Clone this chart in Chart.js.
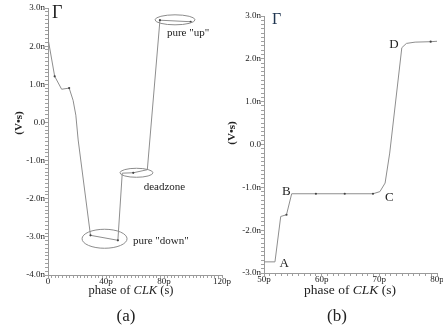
<!DOCTYPE html>
<html>
<head>
<meta charset="utf-8">
<script src="https://cdn.jsdelivr.net/npm/chart.js@4.4.1/dist/chart.umd.min.js"></script>
<style>
    body { margin: 0; background: #fff; width: 443px; height: 328px; overflow: hidden; position: relative; font-family: "Liberation Serif", "DejaVu Serif", serif; color: #222; }
    canvas { position: absolute; top: 0; }
    #chartA { left: 0; }
    #chartB { left: 222px; }
    .txt { position: absolute; white-space: nowrap; line-height: 1; }
    .ytitle { transform: translate(-50%, -50%) rotate(-90deg); font-weight: bold; font-size: 11px; }
    .xtitle { transform: translateX(-50%); font-size: 12.5px; }
    .panel { transform: translateX(-50%); font-size: 17px; }
    .gamma { font-size: 18px; }
</style>
</head>
<body>
<canvas id="chartA" width="235" height="290" style="width:235px;height:290px"></canvas>
<canvas id="chartB" width="221" height="290" style="width:221px;height:290px"></canvas>

<div class="txt gamma" style="left:52px;top:3px">Γ</div>
<div class="txt gamma" style="left:272px;top:11px;font-size:16px;color:#1f3550">Γ</div>
<div class="txt ytitle" style="left:18px;top:123px">(V•s)</div>
<div class="txt ytitle" style="left:231px;top:133px">(V•s)</div>
<div class="txt xtitle" style="left:131px;top:284px">phase of <i>CLK</i> (s)</div>
<div class="txt xtitle" style="left:350px;top:283px;font-size:13.5px">phase of <i>CLK</i> (s)</div>
<div class="txt panel" style="left:126px;top:307px">(a)</div>
<div class="txt panel" style="left:337px;top:307px">(b)</div>

<script>
// panel (a): phase in ps, Gamma in nV*s
const phaseA = [0, 0.2, 4.6, 9.4, 14.6, 17.3, 19.2, 20.8, 29.3, 48.2, 51.2, 58.8, 68.5, 77.2, 98.4];
const gammaA = [2.68, 2.16, 1.21, 0.87, 0.9, 0.58, 0.19, -0.46, -2.96, -3.09, -1.33, -1.32, -1.24, 2.68, 2.64];
const dotsA = [4.6, 14.6, 29.3, 48.2, 58.8, 77.2, 98.4];

// panel (b)
const phaseB = [50, 51.9, 52.9, 53.9, 54.8, 59, 64, 68.9, 70.1, 71, 71.8, 73.9, 74.7, 76.2, 78.9, 80];
const gammaB = [-2.74, -2.74, -1.68, -1.64, -1.15, -1.15, -1.15, -1.15, -1.1, -0.9, -0.2, 2.26, 2.36, 2.39, 2.4, 2.41];
const dotsB = [53.9, 59, 64, 68.9, 78.9];

// tick labels
const xTicksA = [0, 40, 80, 120];
const xTicksB = [50, 60, 70, 80];
const yTicksA = [-4, -3, -2, -1, 0, 1, 2, 3];
const yTicksB = [-3, -2, -1, 0, 1, 2, 3];

// annotations (a): ellipses and remarks, in data units
const ringsA = [
    { x: 87.6, y: 2.69, rx: 20, ry: 5 },
    { x: 61, y: -1.32, rx: 16.5, ry: 4.5 },
    { x: 39, y: -3.05, rx: 22.5, ry: 9.5 },
];
const remarksA = [
    { text: 'pure "up"', x: 82, y: 2.34 },
    { text: 'deadzone', x: 66, y: -1.7 },
    { text: 'pure "down"', x: 58.6, y: -3.11 },
];
// annotations (b): point letters
const remarksB = [
    { text: 'A', x: 52.7, y: -2.79 },
    { text: 'B', x: 53.1, y: -1.09 },
    { text: 'C', x: 71.0, y: -1.23 },
    { text: 'D', x: 71.7, y: 2.33 },
];

const serif = '"Liberation Serif", "DejaVu Serif", serif';

const notesPlugin = {
    id: 'notes',
    afterDatasetsDraw(chart, args, opts) {
        const { ctx, scales: { x, y } } = chart;
        ctx.save();
        ctx.strokeStyle = '#8c8c8c';
        ctx.lineWidth = 1;
        (opts.rings || []).forEach((r) => {
            ctx.beginPath();
            ctx.ellipse(x.getPixelForValue(r.x), y.getPixelForValue(r.y), r.rx, r.ry, 0, 0, Math.PI * 2);
            ctx.stroke();
        });
        ctx.fillStyle = '#222';
        ctx.font = `${opts.size || 11}px ${serif}`;
        ctx.textBaseline = 'middle';
        ctx.textAlign = 'left';
        (opts.remarks || []).forEach((r) => {
            ctx.fillText(r.text, x.getPixelForValue(r.x), y.getPixelForValue(r.y));
        });
        ctx.restore();
    },
};

const isMajor = (value, list) => list.some((t) => Math.abs(t - value) < 1e-6);

const makeChart = (id, phase, gamma, dots, cfg) => {
    const points = phase.map((p, i) => ({ x: p, y: gamma[i] }));
    const radii = phase.map((p) => (dots.includes(p) ? 1.1 : 0));

    const axisGrid = {
        display: true,
        drawOnChartArea: false,
        drawTicks: true,
        tickLength: 3,
        tickColor: '#a0a0a0',
    };
    const tickFont = { family: serif, size: 9 };

    return new Chart(document.getElementById(id), {
        type: 'line',
        data: {
            datasets: [
                {
                    data: points,
                    borderColor: '#8e8e8e',
                    borderWidth: 1,
                    pointRadius: radii,
                    pointBackgroundColor: '#444',
                    pointBorderWidth: 0,
                    tension: 0,
                    fill: false,
                },
            ],
        },
        options: {
            responsive: false,
            animation: false,
            events: [],
            layout: { padding: cfg.padding },
            plugins: {
                legend: { display: false },
                tooltip: { enabled: false },
                notes: cfg.notes,
            },
            scales: {
                x: {
                    type: 'linear',
                    min: cfg.xMin,
                    max: cfg.xMax,
                    grid: axisGrid,
                    border: { display: true, color: '#9a9a9a' },
                    ticks: {
                        stepSize: cfg.xStep,
                        autoSkip: false,
                        maxRotation: 0,
                        padding: -2,
                        color: '#222',
                        font: tickFont,
                        callback: (value) => {
                            if (!isMajor(value, cfg.xTicks)) return '';
                            return value === 0 ? '0' : `${value}p`;
                        },
                    },
                    afterFit: (scale) => {
                        scale.height = cfg.xHeight;
                        scale.paddingLeft = 0;
                        scale.paddingRight = 0;
                    },
                },
                y: {
                    min: cfg.yMin,
                    max: cfg.yMax,
                    grid: axisGrid,
                    border: { display: true, color: '#9a9a9a' },
                    ticks: {
                        stepSize: 0.1,
                        autoSkip: false,
                        padding: 0,
                        color: '#222',
                        font: tickFont,
                        callback: (value) => {
                            if (!isMajor(value, cfg.yTicks)) return '';
                            const v = Math.round(value);
                            return v === 0 ? '0.0' : `${v.toFixed(1)}n`;
                        },
                    },
                    afterFit: (scale) => {
                        scale.width = cfg.yWidth;
                    },
                },
            },
        },
        plugins: [notesPlugin],
    });
};

makeChart('chartA', phaseA, gammaA, dotsA, {
    xMin: 0, xMax: 120, xStep: 2.5, xTicks: xTicksA,
    yMin: -4, yMax: 3, yTicks: yTicksA,
    yWidth: 48, xHeight: 15,
    padding: { top: 8, right: 13, left: 0, bottom: 0 },
    notes: { rings: ringsA, remarks: remarksA, size: 11 },
});

makeChart('chartB', phaseB, gammaB, dotsB, {
    xMin: 50, xMax: 80, xStep: 1, xTicks: xTicksB,
    yMin: -3, yMax: 3, yTicks: yTicksB,
    yWidth: 42, xHeight: 17,
    padding: { top: 16, right: 6, left: 0, bottom: 0 },
    notes: { remarks: remarksB, size: 13 },
});
</script>
</body>
</html>
